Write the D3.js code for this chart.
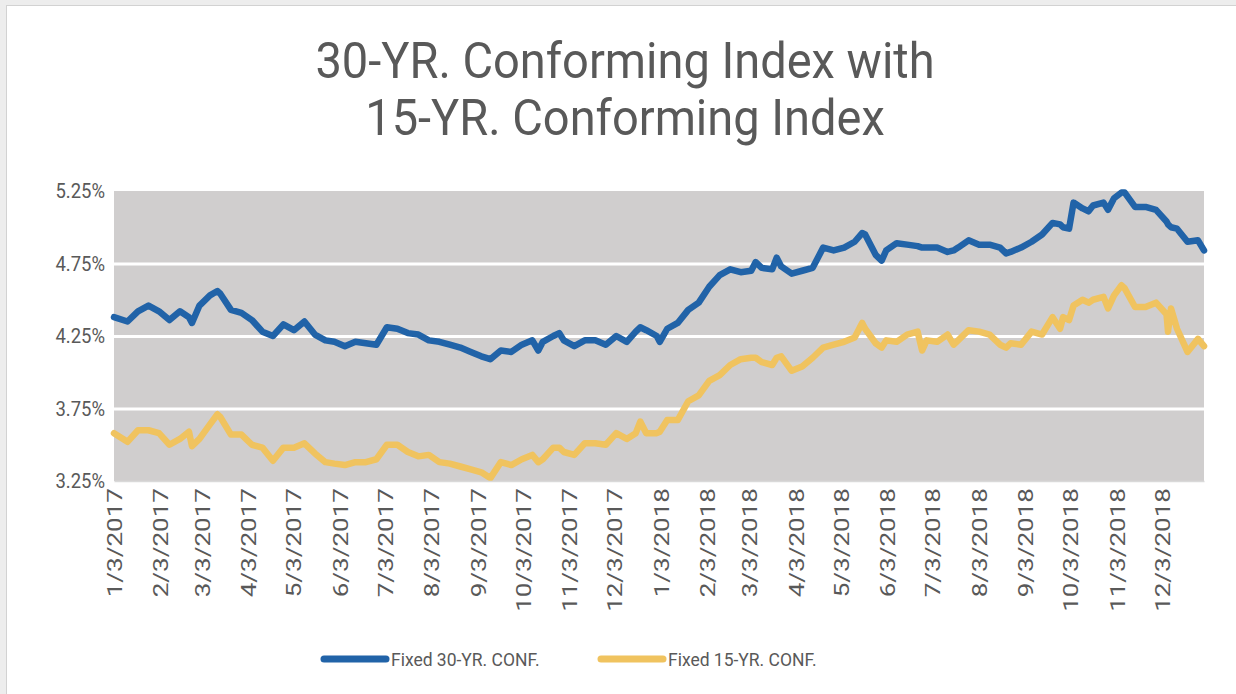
<!DOCTYPE html>
<html>
<head>
<meta charset="utf-8">
<script src="https://cdn.jsdelivr.net/npm/d3@7"></script>
<style>
  html, body { margin: 0; padding: 0; background: #ededed; }
  #chart svg { display: block; font-family: Roboto, "Noto Sans", sans-serif; }
</style>
</head>
<body>
<div id="chart"></div>
<script>
// chart data (roughly weekly, plus visible peaks/dips)
var dates = [
  "2017-01-03","2017-01-12","2017-01-19","2017-01-26","2017-02-02","2017-02-09","2017-02-16","2017-02-22","2017-02-24","2017-03-01",
  "2017-03-08","2017-03-13","2017-03-15","2017-03-22","2017-03-29","2017-04-05","2017-04-12","2017-04-19","2017-04-26","2017-05-03",
  "2017-05-10","2017-05-17","2017-05-24","2017-05-30","2017-06-06","2017-06-13","2017-06-20","2017-06-27","2017-07-04","2017-07-11",
  "2017-07-18","2017-07-25","2017-08-01","2017-08-08","2017-08-15","2017-08-22","2017-08-29","2017-09-05","2017-09-11","2017-09-18",
  "2017-09-25","2017-10-02","2017-10-09","2017-10-13","2017-10-16","2017-10-23","2017-10-27","2017-10-30","2017-11-06","2017-11-13",
  "2017-11-20","2017-11-27","2017-12-04","2017-12-11","2017-12-17","2017-12-20","2017-12-24","2017-12-31","2018-01-02","2018-01-07",
  "2018-01-14","2018-01-21","2018-01-28","2018-02-04","2018-02-11","2018-02-18","2018-02-25","2018-03-04","2018-03-07","2018-03-11",
  "2018-03-18","2018-03-21","2018-03-24","2018-03-31","2018-04-07","2018-04-14","2018-04-21","2018-04-28","2018-05-05","2018-05-12",
  "2018-05-17","2018-05-19","2018-05-26","2018-05-30","2018-06-02","2018-06-09","2018-06-16","2018-06-23","2018-06-26","2018-06-29",
  "2018-07-06","2018-07-13","2018-07-17","2018-07-20","2018-07-27","2018-08-03","2018-08-10","2018-08-17","2018-08-21","2018-08-24",
  "2018-08-31","2018-09-07","2018-09-14","2018-09-21","2018-09-26","2018-09-28","2018-10-02","2018-10-05","2018-10-11","2018-10-15",
  "2018-10-18","2018-10-25","2018-10-28","2018-11-01","2018-11-06","2018-11-08","2018-11-15","2018-11-22","2018-11-29","2018-12-06",
  "2018-12-07","2018-12-09","2018-12-13","2018-12-20","2018-12-27","2018-12-31"
];

var fixed30 = [
  4.38,4.35,4.42,4.46,4.42,4.36,4.42,4.38,4.34,4.46,
  4.53,4.56,4.54,4.43,4.41,4.36,4.28,4.25,4.33,4.29,
  4.35,4.26,4.22,4.21,4.18,4.21,4.20,4.19,4.31,4.30,
  4.27,4.26,4.22,4.21,4.19,4.17,4.14,4.11,4.09,4.15,
  4.14,4.19,4.22,4.15,4.21,4.25,4.27,4.22,4.18,4.22,
  4.22,4.19,4.25,4.21,4.28,4.31,4.29,4.25,4.21,4.30,
  4.34,4.43,4.48,4.59,4.67,4.71,4.69,4.70,4.76,4.72,
  4.71,4.79,4.73,4.68,4.70,4.72,4.86,4.84,4.86,4.90,
  4.96,4.95,4.81,4.77,4.84,4.89,4.88,4.87,4.86,4.86,
  4.86,4.83,4.84,4.86,4.91,4.88,4.88,4.86,4.82,4.83,
  4.86,4.90,4.95,5.03,5.02,5.00,4.99,5.17,5.13,5.11,
  5.15,5.17,5.12,5.20,5.24,5.24,5.14,5.14,5.12,5.04,
  5.02,5.00,4.99,4.90,4.91,4.84
];

var fixed15 = [
  3.58,3.52,3.60,3.60,3.58,3.50,3.54,3.59,3.49,3.54,
  3.64,3.71,3.69,3.57,3.57,3.50,3.48,3.39,3.48,3.48,
  3.51,3.44,3.38,3.37,3.36,3.38,3.38,3.40,3.50,3.50,
  3.45,3.42,3.43,3.38,3.37,3.35,3.33,3.31,3.27,3.38,
  3.36,3.40,3.43,3.38,3.40,3.48,3.48,3.45,3.43,3.51,
  3.51,3.50,3.58,3.54,3.58,3.66,3.58,3.58,3.59,3.67,
  3.67,3.80,3.84,3.94,3.98,4.05,4.09,4.10,4.10,4.07,
  4.05,4.10,4.11,4.01,4.04,4.10,4.17,4.19,4.21,4.24,
  4.34,4.30,4.20,4.17,4.22,4.21,4.26,4.28,4.15,4.22,
  4.21,4.26,4.19,4.22,4.29,4.28,4.26,4.19,4.17,4.20,
  4.19,4.28,4.26,4.38,4.30,4.38,4.36,4.46,4.50,4.48,
  4.50,4.52,4.44,4.53,4.60,4.58,4.45,4.45,4.48,4.40,
  4.28,4.44,4.30,4.14,4.23,4.18
];

var yTicks = [3.25, 3.75, 4.25, 4.75, 5.25];
var gridTicks = [3.75, 4.25, 4.75];
var xTicks = [
  "2017-01-03","2017-02-03","2017-03-03","2017-04-03","2017-05-03","2017-06-03",
  "2017-07-03","2017-08-03","2017-09-03","2017-10-03","2017-11-03","2017-12-03",
  "2018-01-03","2018-02-03","2018-03-03","2018-04-03","2018-05-03","2018-06-03",
  "2018-07-03","2018-08-03","2018-09-03","2018-10-03","2018-11-03","2018-12-03"
];
var xRange = ["2017-01-03", "2018-12-31"];
var seriesNames = ["Fixed 30-YR. CONF.", "Fixed 15-YR. CONF."];
var seriesColors = ["#2163a8", "#f0c35f"];
var titleLines = ["30-YR. Conforming Index with", "15-YR. Conforming Index"];

var parse = d3.timeParse("%Y-%m-%d");
var fmt = d3.timeFormat("%-m/%-d/%Y");

// set the dimensions and margins of the graph
var W = 1236, H = 694;
var margin = {top: 191, right: 32, bottom: 213, left: 114},
    width = W - margin.left - margin.right,
    height = H - margin.top - margin.bottom;

var x = d3.scaleTime().domain(xRange.map(parse)).range([0, width]);
var y = d3.scaleLinear().domain([3.25, 5.25]).range([height, 0]);

var svg = d3.select("#chart").append("svg")
    .attr("width", W)
    .attr("height", H);

// chart frame
svg.append("rect")
    .attr("x", 6.5).attr("y", 5.5)
    .attr("width", W).attr("height", H)
    .attr("fill", "#fff")
    .attr("stroke", "#d2d2d2");

// title
svg.append("g").selectAll("text")
    .data(titleLines)
    .enter().append("text")
    .attr("transform", function(d, i) { return "translate(625," + (78 + i * 57) + ") scale(1,1.06)"; })
    .attr("text-anchor", "middle")
    .attr("font-size", "47px")
    .attr("fill", "#595959")
    .text(function(d) { return d; });

var g = svg.append("g")
    .attr("transform", "translate(" + margin.left + "," + margin.top + ")");

// plot background
g.append("rect")
    .attr("width", width)
    .attr("height", height)
    .attr("fill", "#d0cece");

// gridlines
g.append("g")
    .call(d3.axisLeft(y).tickValues(gridTicks).tickSize(-width).tickFormat(""))
    .call(function(s) {
        s.select(".domain").remove();
        s.selectAll("line").attr("stroke", "#fff").attr("stroke-width", 3);
    });

// lines
var series = [fixed30, fixed15];
var valueline = d3.line()
    .x(function(d) { return x(d.date); })
    .y(function(d) { return y(d.value); });

series.forEach(function(vals, si) {
    var pts = vals.map(function(v, i) { return {date: parse(dates[i]), value: v}; });
    g.append("path")
        .datum(pts)
        .attr("fill", "none")
        .attr("stroke", seriesColors[si])
        .attr("stroke-width", 6.5)
        .attr("stroke-linejoin", "round")
        .attr("stroke-linecap", "round")
        .attr("d", valueline);
});

// X axis
g.append("g")
    .attr("transform", "translate(0," + height + ")")
    .call(d3.axisBottom(x).tickValues(xTicks.map(parse)).tickSize(0).tickFormat(fmt))
    .call(function(s) {
        s.select(".domain").attr("stroke", "#d9d9d9").attr("stroke-width", 1.5);
        s.selectAll("text")
            .attr("transform", "rotate(-90) scale(1.3,1)")
            .attr("text-anchor", "end")
            .attr("x", -5.5)
            .attr("y", 0)
            .attr("dy", "0.35em")
            .attr("font-size", "20px")
            .attr("font-family", "Roboto, sans-serif")
            .attr("fill", "#595959");
    });

// Y axis
g.append("g")
    .call(d3.axisLeft(y).tickValues(yTicks).tickSize(0).tickPadding(9)
        .tickFormat(function(d) { return d.toFixed(2) + "%"; }))
    .call(function(s) {
        s.select(".domain").remove();
        s.selectAll("text")
            .attr("transform", "scale(1,1.12)")
            .attr("font-size", "18.5px")
            .attr("font-family", "Roboto, sans-serif")
            .attr("fill", "#595959");
    });

// legend
var legendX = [324, 601];
var legend = svg.append("g").selectAll("g")
    .data(seriesNames)
    .enter().append("g")
    .attr("transform", function(d, i) { return "translate(" + legendX[i] + ",659)"; });

legend.append("line")
    .attr("x1", 0).attr("x2", 62)
    .attr("stroke", function(d, i) { return seriesColors[i]; })
    .attr("stroke-width", 7)
    .attr("stroke-linecap", "round");

legend.append("text")
    .attr("x", 67)
    .attr("dy", "0.35em")
    .attr("transform", "scale(1,1.1)")
    .attr("font-size", "17.5px")
    .attr("fill", "#595959")
    .text(function(d) { return d; });
</script>
</body>
</html>
